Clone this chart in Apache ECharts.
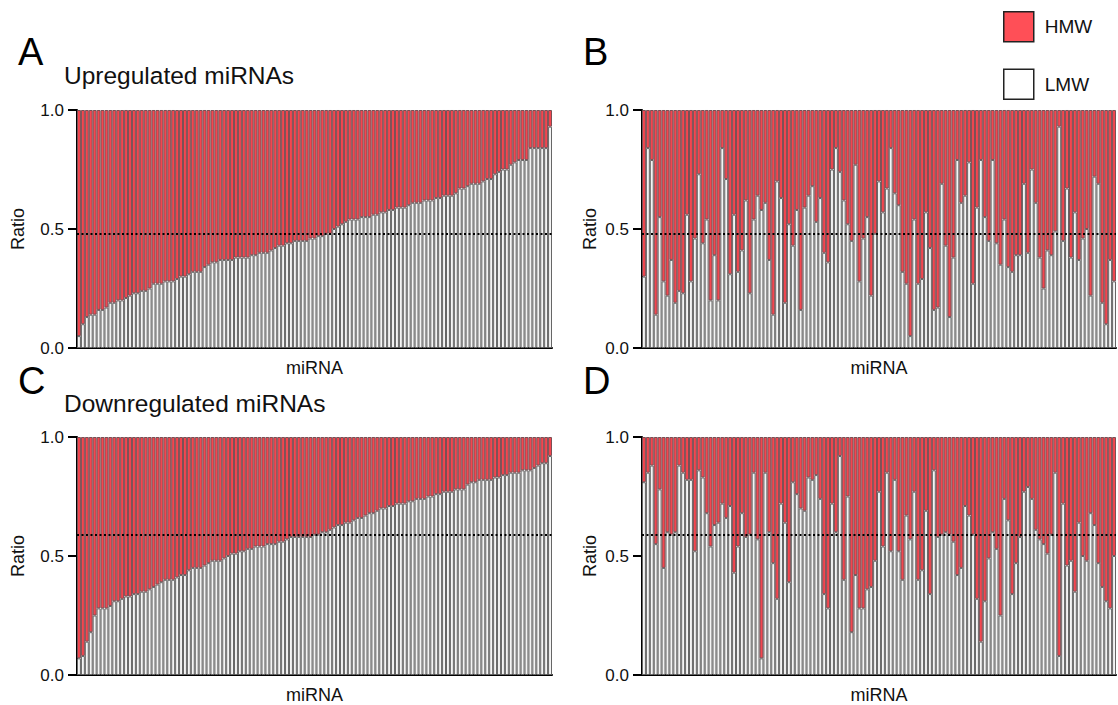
<!DOCTYPE html>
<html>
<head>
<meta charset="utf-8">
<script src="https://cdn.jsdelivr.net/npm/echarts@6/dist/echarts.min.js"></script>
<style>
html,body{margin:0;padding:0;background:#fff;}
#chart{width:1118px;height:705px;}
</style>
</head>
<body>
<div id="chart"></div>
<script>
// LMW ratio per miRNA (HMW = 1 - LMW)
const upSortedLMW = [
0.05,0.10,0.13,0.14,0.14,0.16,0.16,0.17,0.19,0.19,
0.20,0.20,0.21,0.22,0.23,0.23,0.24,0.24,0.25,0.27,
0.27,0.27,0.28,0.28,0.28,0.29,0.30,0.30,0.31,0.32,
0.32,0.32,0.34,0.35,0.36,0.36,0.37,0.37,0.37,0.37,
0.38,0.38,0.38,0.38,0.39,0.39,0.40,0.40,0.40,0.41,
0.42,0.43,0.43,0.44,0.44,0.45,0.45,
0.45,0.45,0.46,0.46,0.47,0.47,0.48,0.48,0.50,0.51,
0.52,0.53,0.54,0.54,0.54,0.55,0.55,0.55,0.56,0.56,
0.57,0.57,0.58,0.58,0.59,0.59,0.59,0.60,0.61,0.61,
0.61,0.62,0.62,0.62,0.63,0.63,0.64,0.64,0.64,0.65,
0.67,0.67,0.68,0.69,0.69,0.69,0.70,0.71,0.71,0.73,
0.74,0.75,0.75,0.77,0.78,0.79,0.79,0.79,0.84,0.84,
0.84,0.84,0.84,0.93];
const upUnsortedLMW = [
0.30,0.84,0.79,0.14,0.55,0.28,0.22,0.37,0.19,0.24,
0.23,0.56,0.28,0.46,0.73,0.44,0.54,0.20,0.39,0.20,
0.84,0.71,0.31,0.56,0.32,0.41,0.62,0.23,0.54,0.64,
0.58,0.61,0.37,0.14,0.70,0.63,0.19,0.52,0.43,0.58,
0.16,0.59,0.64,0.68,0.53,0.63,0.40,0.36,0.75,0.84,
0.74,0.62,0.52,0.45,0.77,0.28,0.46,0.55,0.22,
0.48,0.70,0.57,0.67,0.84,0.65,0.60,0.32,0.27,0.05,
0.54,0.27,0.29,0.57,0.42,0.16,0.17,0.69,0.43,0.13,
0.38,0.79,0.61,0.64,0.78,0.27,0.59,0.79,0.55,0.45,
0.79,0.44,0.35,0.54,0.34,0.32,0.39,0.39,0.69,0.40,
0.75,0.61,0.38,0.25,0.41,0.39,0.49,0.93,0.45,0.67,
0.38,0.57,0.37,0.46,0.50,0.22,0.72,0.69,0.19,0.10,
0.37,0.28];
const downSortedLMW = [
0.07,0.08,0.14,0.18,0.25,0.28,0.28,0.28,0.29,0.31,
0.31,0.32,0.33,0.33,0.34,0.34,0.35,0.35,0.36,0.37,
0.38,0.39,0.40,0.40,0.40,0.41,0.42,0.42,0.44,0.45,
0.45,0.45,0.46,0.47,0.48,0.48,0.48,0.49,0.50,0.51,
0.51,0.52,0.52,0.53,0.53,0.54,0.54,0.54,0.55,0.55,
0.55,0.56,0.56,0.57,0.58,0.58,0.58,0.58,
0.58,0.58,0.59,0.59,0.60,0.60,0.61,0.62,0.63,0.63,
0.64,0.64,0.65,0.66,0.66,0.67,0.68,0.68,0.69,0.70,
0.70,0.71,0.71,0.72,0.72,0.72,0.73,0.73,0.74,0.74,
0.74,0.75,0.75,0.76,0.76,0.77,0.77,0.77,0.78,0.78,
0.78,0.80,0.81,0.81,0.82,0.82,0.82,0.82,0.83,0.83,
0.84,0.84,0.85,0.85,0.85,0.86,0.86,0.86,0.87,0.88,
0.89,0.89,0.92];
const downUnsortedLMW = [
0.81,0.85,0.88,0.55,0.78,0.45,0.60,0.59,0.60,0.88,
0.85,0.82,0.82,0.52,0.86,0.83,0.68,0.54,0.63,0.64,
0.72,0.66,0.71,0.43,0.54,0.68,0.58,0.59,0.85,0.57,
0.07,0.85,0.60,0.47,0.32,0.72,0.64,0.39,0.81,0.76,
0.70,0.69,0.83,0.82,0.84,0.74,0.34,0.28,0.72,0.60,
0.92,0.40,0.75,0.18,0.42,0.28,0.28,0.36,0.37,0.48,
0.77,0.54,0.85,0.52,0.82,0.52,0.40,0.67,0.57,0.77,
0.40,0.44,0.69,0.34,0.86,0.58,0.59,0.60,0.59,0.56,
0.42,0.45,0.71,0.67,0.59,0.32,0.14,0.31,0.49,0.60,
0.53,0.25,0.74,0.65,0.34,0.47,0.58,0.77,0.79,0.74,
0.61,0.57,0.55,0.51,0.59,0.85,0.08,0.72,0.46,0.48,
0.35,0.64,0.50,0.48,0.68,0.63,0.47,0.37,0.31,0.28,
0.50];
const upMeanRatio = 0.476;
const downMeanRatio = 0.586;
const yTickValues = [0, 0.5, 1.0];
const panelLetters = ['A', 'B', 'C', 'D'];
const panelTitles = ['Upregulated miRNAs', 'Downregulated miRNAs'];
const seriesNames = ['HMW', 'LMW'];
const xAxisName = 'miRNA';
const yAxisName = 'Ratio';

const FONT = 'Liberation Sans, Arial, Helvetica, sans-serif';
const RED = '#f4464f';
const panels = [
  {lmw: upSortedLMW, mean: upMeanRatio, grid: {left: 77, top: 110, width: 475, height: 238}},
  {lmw: upUnsortedLMW, mean: upMeanRatio, grid: {left: 642, top: 110, width: 474, height: 238}},
  {lmw: downSortedLMW, mean: downMeanRatio, grid: {left: 77, top: 437, width: 475, height: 238}},
  {lmw: downUnsortedLMW, mean: downMeanRatio, grid: {left: 642, top: 437, width: 474, height: 238}}
];

const grids = [], xAxes = [], yAxes = [], series = [];
panels.forEach((p, i) => {
  grids.push(p.grid);
  const cats = p.lmw.map((_, k) => 'miR-' + (k + 1));
  xAxes.push({
    type: 'category', gridIndex: i, data: cats,
    axisLine: {show: true, lineStyle: {color: '#000', width: 2}},
    axisTick: {show: false}, axisLabel: {show: false},
    name: xAxisName, nameLocation: 'middle', nameGap: 11,
    nameTextStyle: {fontSize: 18, color: '#111', fontFamily: FONT, verticalAlign: 'top'}
  });
  yAxes.push({
    type: 'value', gridIndex: i, min: yTickValues[0], max: yTickValues[yTickValues.length - 1], interval: 0.5,
    axisLine: {show: true, lineStyle: {color: '#000', width: 2}},
    axisTick: {show: true, length: 9, lineStyle: {color: '#000', width: 2}},
    axisLabel: {formatter: v => v.toFixed(1), fontSize: 17, color: '#111', fontFamily: FONT, margin: 13},
    splitLine: {show: false},
    name: yAxisName, nameLocation: 'middle', nameGap: i % 2 === 0 ? 50 : 43, nameRotate: 90,
    nameTextStyle: {fontSize: 18, color: '#111', fontFamily: FONT}
  });
  series.push({
    name: seriesNames[1], type: 'bar', xAxisIndex: i, yAxisIndex: i, stack: 's' + i,
    data: p.lmw, barCategoryGap: '0%',
    itemStyle: {color: '#f4f4f4', borderColor: '#666', borderWidth: 1},
    emphasis: {disabled: true}, animation: false,
    markLine: {
      silent: true, symbol: 'none', label: {show: false},
      lineStyle: {color: '#000', width: 2, type: [2, 2.5]},
      data: [{yAxis: p.mean}]
    },
    z: 2
  });
  series.push({
    name: seriesNames[0], type: 'bar', xAxisIndex: i, yAxisIndex: i, stack: 's' + i,
    data: p.lmw.map(v => +(1 - v).toFixed(3)), barCategoryGap: '0%',
    itemStyle: {color: RED, borderColor: '#7a5055', borderWidth: 1},
    emphasis: {disabled: true}, animation: false, z: 2
  });
});

const textStyleBig = {fontSize: 38, fill: '#000', fontFamily: FONT};
const graphics = [
  {type: 'text', x: 18, y: 52, style: Object.assign({text: panelLetters[0], verticalAlign: 'middle'}, textStyleBig)},
  {type: 'text', x: 583, y: 52, style: Object.assign({text: panelLetters[1], verticalAlign: 'middle'}, textStyleBig)},
  {type: 'text', x: 18, y: 381, style: Object.assign({text: panelLetters[2], verticalAlign: 'middle'}, textStyleBig)},
  {type: 'text', x: 583, y: 381, style: Object.assign({text: panelLetters[3], verticalAlign: 'middle'}, textStyleBig)},
  {type: 'text', x: 64, y: 75, style: {text: panelTitles[0], fontSize: 24.5, fill: '#111', fontFamily: FONT, verticalAlign: 'middle'}},
  {type: 'text', x: 64, y: 403, style: {text: panelTitles[1], fontSize: 24.5, fill: '#111', fontFamily: FONT, verticalAlign: 'middle'}}
];

const chart = echarts.init(document.getElementById('chart'), null, {renderer: 'svg'});
chart.setOption({
  animation: false,
  backgroundColor: '#fff',
  grid: grids,
  xAxis: xAxes,
  yAxis: yAxes,
  series: series,
  graphic: graphics,
  legend: {
    orient: 'vertical', left: 1003, top: 11, itemWidth: 30, itemHeight: 30, itemGap: 26,
    padding: 0, selectedMode: false,
    textStyle: {fontSize: 19, color: '#111', fontFamily: FONT, padding: [0, 0, 0, 6]},
    data: [
      {name: seriesNames[0], icon: 'rect', itemStyle: {color: '#ff4f57', borderColor: '#222', borderWidth: 1.5}},
      {name: seriesNames[1], icon: 'rect', itemStyle: {color: '#ffffff', borderColor: '#222', borderWidth: 1.5}}
    ]
  }
});
</script>
</body>
</html>
